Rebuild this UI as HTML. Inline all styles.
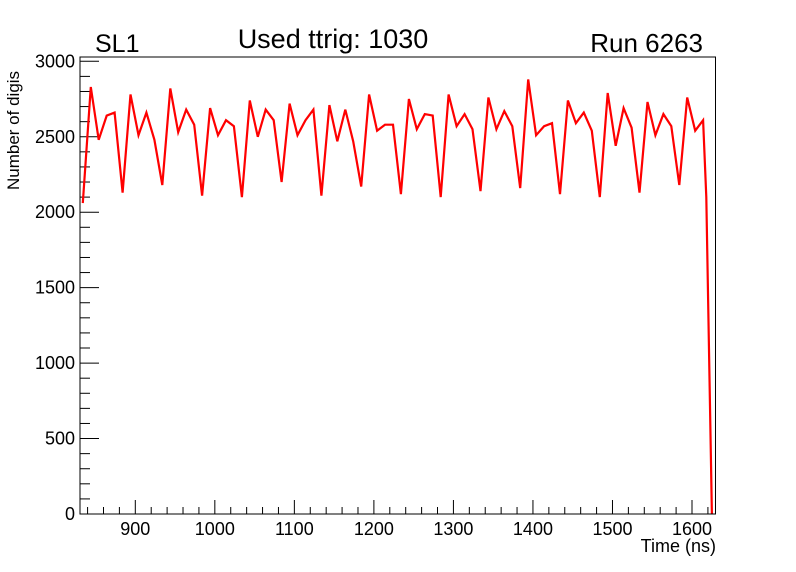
<!DOCTYPE html>
<html><head><meta charset="utf-8"><style>
html,body{margin:0;padding:0;background:#fff;}
svg{display:block;font-family:"Liberation Sans",Arial,sans-serif;}
</style></head><body>
<svg id="chart" width="796" height="572" viewBox="0 0 796 572" xmlns="http://www.w3.org/2000/svg">
<rect x="0" y="0" width="796" height="572" fill="#fff"/>
<text x="95" y="52" font-size="25">SL1</text>
<text x="333" y="48" font-size="27" text-anchor="middle">Used ttrig: 1030</text>
<text x="703" y="52" font-size="26" text-anchor="end">Run 6263</text>
<text transform="translate(19,190) rotate(-90)" font-size="17">Number of digis</text>
<text x="716" y="552" font-size="18" text-anchor="end">Time (ns)</text>
<g id="axes"></g>
<g id="series"></g>
<rect x="80" y="57" width="635.5" height="457" fill="none" stroke="#000" stroke-width="1"/>
</svg>
<script>
const xTicks = [900,1000,1100,1200,1300,1400,1500,1600];
const yTicks = [0,500,1000,1500,2000,2500,3000];
const startTime = 834;
const binWidth = 10;
const values = [2060,2830,2480,2640,2660,2130,2780,2510,2660,2480,2180,2820,2530,2680,2580,2110,2690,2510,2610,2570,2100,2740,2500,2680,2610,2200,2720,2510,2610,2680,2110,2710,2470,2680,2470,2170,2780,2540,2580,2580,2120,2750,2550,2650,2640,2100,2780,2570,2650,2550,2140,2760,2550,2670,2570,2160,2880,2510,2570,2590,2120,2740,2590,2660,2540,2100,2790,2440,2690,2560,2130,2730,2510,2650,2570,2180,2760,2540,2610];
const tailTimes = [1618,1625];
const tailValues = [2100,0];

const NS='http://www.w3.org/2000/svg';
const X0=80,X1=715.5,Y0=514,Y1=57;
function xs(t){return 135.3+(t-900)*0.7953;}
function ys(v){return 514-v*0.1509;}
const axes=document.getElementById('axes');
function line(x1,y1,x2,y2,name){
  const l=document.createElementNS(NS,'line');
  l.setAttribute('x1',x1);l.setAttribute('y1',y1);l.setAttribute('x2',x2);l.setAttribute('y2',y2);
  l.setAttribute('stroke','#000');l.setAttribute('stroke-width','1');
  
  
  axes.appendChild(l);
}
function text(x,y,s,anchor,name){
  const t=document.createElementNS(NS,'text');
  t.setAttribute('x',x);t.setAttribute('y',y);t.setAttribute('font-size','18');t.setAttribute('text-anchor',anchor);
  t.textContent=s;
  
  
  axes.appendChild(t);
}
for(let t=840;t<=1620;t+=20){
  const x=xs(t); if(x<X0||x>X1) continue;
  const major=(t%100===0);
  line(x,Y0,x,Y0-(major?14:7),'x-tick');
}
xTicks.forEach(t=>text(xs(t),535,String(t),'middle','x-tick-label'));
for(let v=0;v<=3000;v+=100){
  const y=ys(v); const major=(v%500===0);
  line(X0,y,X0+(major?19:10),y,'y-tick');
}
yTicks.forEach(v=>text(75,ys(v)+6,String(v),'end','y-tick-label'));
const pts=values.map((v,i)=>xs(startTime+i*binWidth).toFixed(1)+','+ys(v).toFixed(1));
tailTimes.forEach((t,i)=>pts.push(xs(t).toFixed(1)+','+ys(tailValues[i]).toFixed(1)));
const pl=document.createElementNS(NS,'polyline');
pl.setAttribute('points',pts.join(' '));
pl.setAttribute('fill','none');pl.setAttribute('stroke','#ff0000');pl.setAttribute('stroke-width','2.2');


document.getElementById('series').appendChild(pl);
</script>
</body></html>
